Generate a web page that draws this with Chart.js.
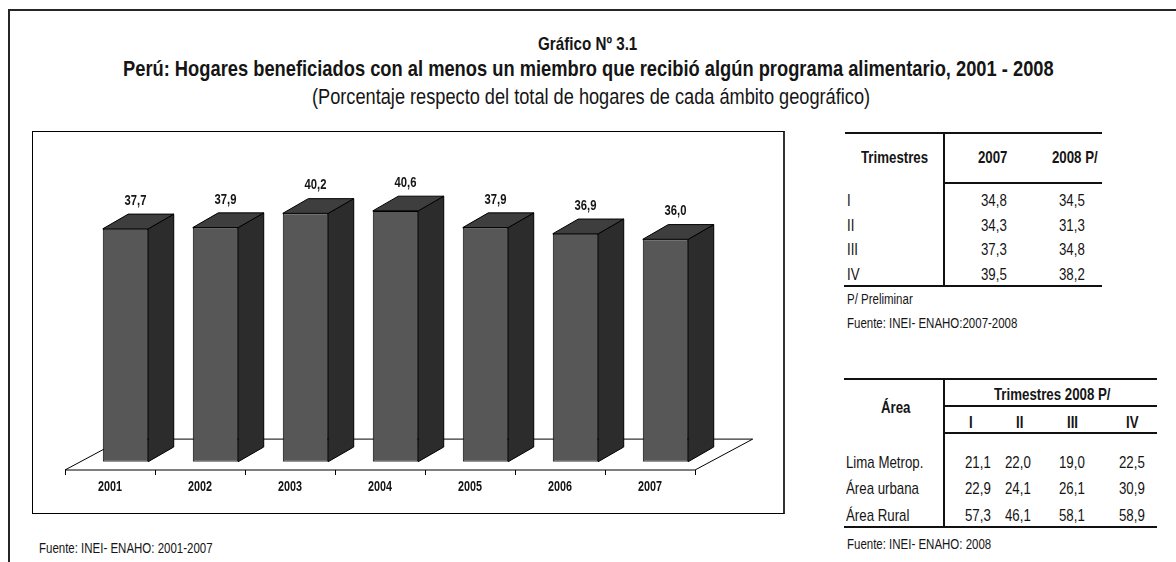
<!DOCTYPE html>
<html>
<head>
<meta charset="utf-8">
<script src="https://cdn.jsdelivr.net/npm/chart.js@4"></script>
<style>
body{margin:0;background:#fff;width:1176px;height:562px;overflow:hidden;position:relative;
  font-family:"Liberation Sans Narrow","Arial Narrow","Liberation Sans",sans-serif;color:#151515}
#frame{position:absolute;left:8px;top:9px;width:1200px;height:600px;border-left:2px solid #262626;border-top:2px solid #262626}
#box{position:absolute;left:32px;top:131px;width:750px;height:381px;border:1px solid #000;border-right:2px solid #333}
#box canvas{position:absolute;left:0;top:0}
.t{position:absolute;white-space:nowrap;transform-origin:0 50%}
.hl{position:absolute;height:2px;background:#111}
.vl{position:absolute;width:1.5px;background:#111}
</style>
</head>
<body>
<div id="frame"></div>
<div id="box"><canvas id="c" width="750" height="381"></canvas></div>
<script>
// grafico principal
var years = ['2001', '2002', '2003', '2004', '2005', '2006', '2007'];
var pct = [37.7, 37.9, 40.2, 40.6, 37.9, 36.9, 36.0];

// tabla trimestral
var trim = ['I', 'II', 'III', 'IV'];
var t2007 = [34.8, 34.3, 37.3, 39.5];
var t2008 = [34.5, 31.3, 34.8, 38.2];

// tabla por area, 2008
var areas = ['Lima Metrop.', 'Área urbana', 'Área Rural'];
var lima = [21.1, 22.0, 19.0, 22.5];
var urbana = [22.9, 24.1, 26.1, 30.9];
var rural = [57.3, 46.1, 58.1, 58.9];

// no hay Arial Narrow: se comprime el texto a lo ancho
var FONT = '"Liberation Sans Narrow","Arial Narrow","Liberation Sans",sans-serif';

function fmt(v) { return v.toFixed(1).replace('.', ','); }

function put(str, x, y, size, opt) {
    opt = opt || {};
    var d = document.createElement('div');
    d.className = 't';
    d.textContent = str;
    d.style.fontSize = size + 'px';
    d.style.lineHeight = size + 'px';
    if (opt.bold) d.style.fontWeight = 'bold';
    document.body.appendChild(d);
    var w = d.offsetWidth;
    var k = opt.w ? opt.w / w : (opt.k || 0.78);
    var ww = w * k;
    var left = opt.align == 'left' ? x : (opt.align == 'right' ? x - ww : x - ww / 2);
    d.style.left = left + 'px';
    d.style.top = (y - size * 0.49) + 'px';
    d.style.transform = 'scaleX(' + k + ')';
}
function hline(x1, x2, y) {
    var d = document.createElement('div');
    d.className = 'hl';
    d.style.left = x1 + 'px'; d.style.width = (x2 - x1) + 'px'; d.style.top = (y - 1) + 'px';
    document.body.appendChild(d);
}
function vline(x, y1, y2) {
    var d = document.createElement('div');
    d.className = 'vl';
    d.style.left = x + 'px'; d.style.top = y1 + 'px'; d.style.height = (y2 - y1) + 'px';
    document.body.appendChild(d);
}

// titulos
put('Gráfico Nº 3.1', 588, 43, 19, {bold: true, k: 0.8});
put('Perú: Hogares beneficiados con al menos un miembro que recibió algún programa alimentario, 2001 - 2008', 588, 69, 22, {bold: true, w: 931});
put('(Porcentaje respecto del total de hogares de cada ámbito geográfico)', 591, 97, 22, {w: 558});
put('Fuente: INEI- ENAHO: 2001-2007', 39, 548, 14, {align: 'left', k: 0.82});

// tabla 1
hline(845, 1102, 133);
hline(944, 1102, 183);
hline(844, 1102, 286);
vline(943, 133, 286);
put('Trimestres', 895, 157, 17, {bold: true});
put('2007', 993, 157, 17, {bold: true});
put('2008 P/', 1075, 157, 17, {bold: true});
trim.forEach(function (q, i) {
    var y = 200 + i * 24.9;
    put(q, 847, y, 17, {align: 'left'});
    put(fmt(t2007[i]), 994, y, 17);
    put(fmt(t2008[i]), 1072, y, 17);
});
put('P/ Preliminar', 847, 299, 14, {align: 'left', k: 0.82});
put('Fuente: INEI- ENAHO:2007-2008', 847, 323, 14, {align: 'left', k: 0.82});

// tabla 2
hline(844, 1157, 379);
hline(944, 1157, 406);
hline(944, 1157, 433);
hline(844, 1157, 527);
vline(943, 379, 527);
put('Área', 896, 407, 17, {bold: true});
put('Trimestres 2008 P/', 1052, 394, 17, {bold: true});
var qx = [971, 1020, 1072, 1132];
trim.forEach(function (q, j) { put(q, qx[j], 422, 17, {bold: true}); });
var vx = [978, 1018, 1072, 1132];
[lima, urbana, rural].forEach(function (row, i) {
    var y = 462 + i * 26.6;
    put(areas[i], 846, y, 17, {align: 'left'});
    row.forEach(function (v, j) { put(fmt(v), vx[j], y, 17); });
});
put('Fuente: INEI- ENAHO: 2008', 847, 544, 14, {align: 'left', k: 0.82});

// barras 3D: profundidad de la barra, del piso y desplazamiento de la barra dentro del piso
var DX = 25.5, DY = -14.7;
var FX = 57.7, FY = -30.9;
var OX = 15.5, OY = -8.3;

function poly(ctx, pts, fill) {
    ctx.beginPath();
    ctx.moveTo(pts[0][0], pts[0][1]);
    for (var i = 1; i < pts.length; i++) ctx.lineTo(pts[i][0], pts[i][1]);
    ctx.closePath();
    ctx.fillStyle = fill;
    ctx.fill();
    ctx.stroke();
}
function narrowText(ctx, str, x, y, k) {
    ctx.save();
    ctx.translate(x, y);
    ctx.scale(k, 1);
    ctx.fillText(str, 0, 0);
    ctx.restore();
}

var bars3d = {
    id: 'bars3d',
    beforeDatasetsDraw: function (chart) {
        var ctx = chart.ctx, x = chart.scales.x, y = chart.scales.y;
        var y0 = y.getPixelForValue(0);
        ctx.save();
        ctx.strokeStyle = '#000';
        ctx.lineWidth = 1;
        poly(ctx, [[x.left, y0], [x.right, y0], [x.right + FX, y0 + FY], [x.left + FX, y0 + FY]], '#fff');
        var step = (x.right - x.left) / years.length;
        for (var i = 0; i <= years.length; i++) {
            var px = Math.round(x.left + i * step) + 0.5;
            ctx.beginPath(); ctx.moveTo(px, y0); ctx.lineTo(px, y0 + 5); ctx.stroke();
        }
        ctx.fillStyle = '#151515';
        ctx.font = 'bold 15px ' + FONT;
        ctx.textAlign = 'center';
        ctx.textBaseline = 'middle';
        years.forEach(function (yr, i) { narrowText(ctx, yr, x.getPixelForValue(i), y0 + 17, 0.72); });
        ctx.restore();
        ctx.save();
        ctx.translate(OX, OY);
    },
    afterDatasetsDraw: function (chart) {
        var ctx = chart.ctx;
        ctx.restore();
        ctx.save();
        ctx.strokeStyle = '#000';
        ctx.lineWidth = 1;
        ctx.lineJoin = 'round';
        chart.getDatasetMeta(0).data.forEach(function (b, i) {
            var l = b.x - b.width / 2 + OX, r = b.x + b.width / 2 + OX;
            var t = b.y + OY, bt = b.base + OY;
            poly(ctx, [[r, t], [r + DX, t + DY], [r + DX, bt + DY], [r, bt]], '#2c2c2c');
            poly(ctx, [[l, t], [l + DX, t + DY], [r + DX, t + DY], [r, t]], '#3e3e3e');
            ctx.fillStyle = '#151515';
            ctx.font = 'bold 15px ' + FONT;
            ctx.textAlign = 'center';
            ctx.textBaseline = 'middle';
            narrowText(ctx, fmt(pct[i]), (l + r) / 2 + 10, t + DY - 13.5, 0.75);
        });
        ctx.restore();
    }
};

new Chart(document.getElementById('c'), {
    type: 'bar',
    data: {
        labels: years,
        datasets: [{
            data: pct,
            backgroundColor: '#575757',
            borderColor: '#000',
            borderWidth: 1,
            borderSkipped: false,
            categoryPercentage: 1,
            barPercentage: 0.505
        }]
    },
    options: {
        responsive: false,
        animation: false,
        devicePixelRatio: 1,
        layout: {padding: {left: 32, right: 88, top: 60, bottom: 43}},
        plugins: {legend: {display: false}, tooltip: {enabled: false}},
        scales: {
            x: {display: false},
            y: {display: false, min: 0, max: 45}
        }
    },
    plugins: [bars3d]
});
</script>
</body>
</html>
